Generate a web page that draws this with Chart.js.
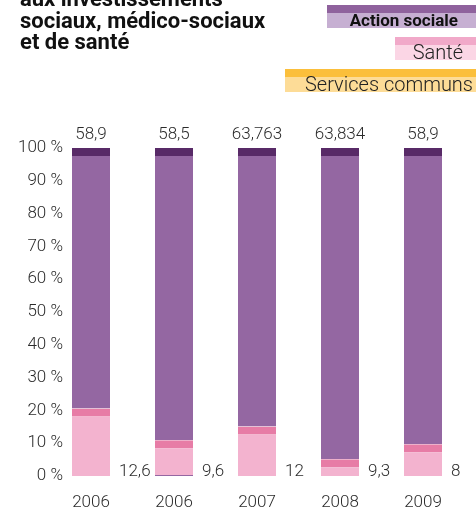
<!DOCTYPE html>
<html>
<head>
<meta charset="utf-8">
<script src="https://cdn.jsdelivr.net/npm/chart.js@4/dist/chart.umd.min.js"></script>
<style>
  html, body { margin: 0; padding: 0; background: #fff; }
  #wrap { position: relative; width: 476px; height: 512px; overflow: hidden; font-family: Roboto, sans-serif; }
  #chart { position: absolute; left: 0; top: 0; }
  .title { position: absolute; left: 20px; top: -12px; font: 700 22px/21.5px Roboto, sans-serif; color: #111; }
  .leg { position: absolute; right: 0; height: 23px; }
  .leg span { position: absolute; bottom: -2px; line-height: 20px; white-space: nowrap; color: #222; }
</style>
</head>
<body>
<div id="wrap">
  <canvas id="chart" width="476" height="512"></canvas>
  <div class="title">aux investissements<br>sociaux, médico-sociaux<br>et de santé</div>
  <div class="leg" style="top:5px;width:149px;background:linear-gradient(#8f629d 0 8px,#c6afd2 8px)">
    <span style="right:18px;font:700 17px/20px Roboto,sans-serif;color:#111">Action sociale</span>
  </div>
  <div class="leg" style="top:37px;width:81px;background:linear-gradient(#f1a9c9 0 8px,#fbd6e5 8px)">
    <span style="right:13px;font:300 20px/20px Roboto,sans-serif">Santé</span>
  </div>
  <div class="leg" style="top:69px;width:191px;background:linear-gradient(#fbbf3b 0 8px,#fddc97 8px)">
    <span style="right:3px;font:300 20px/20px Roboto,sans-serif">Services communs</span>
  </div>
</div>
<script>
// Répartition des investissements par secteur (en % du total)
const years = ['2006', '2006', '2007', '2008', '2009'];
const totalLabels = ['58,9', '58,5', '63,763', '63,834', '58,9'];
const santeLabels = ['12,6', '9,6', '12', '9,3', '8'];

const actionBas = [0, 0.3, 0, 0, 0];
const sante = [20.6, 10.6, 15.1, 5.1, 9.7];
const servicesCommuns = [0, 0, 0, 0, 0];
const actionSociale = [79.4, 89.1, 84.9, 94.9, 90.3];

const TEXT = '#2b2b2b';
const FONT = { family: 'Roboto', size: 17, weight: 300 };

const barLabels = {
  id: 'barLabels',
  afterDatasetsDraw(chart) {
    const { ctx, chartArea } = chart;
    const bars = chart.getDatasetMeta(chart.data.datasets.length - 1).data;
    ctx.save();
    ctx.fillStyle = TEXT;
    ctx.font = '300 17px Roboto';
    ctx.textBaseline = 'alphabetic';
    bars.forEach((bar, i) => {
      const { x, width } = bar.getProps(['x', 'width'], true);
      ctx.textAlign = 'center';
      ctx.fillText(totalLabels[i], x, chartArea.top - 9);
      ctx.textAlign = 'left';
      ctx.fillText(santeLabels[i], x + width / 2 + 9, chartArea.bottom);
    });
    ctx.restore();
  }
};

const common = { barPercentage: 0.458, categoryPercentage: 1, borderSkipped: 'start' };

new Chart(document.getElementById('chart'), {
  type: 'bar',
  data: {
    labels: years,
    datasets: [
      { ...common, label: 'Action sociale', data: actionBas, backgroundColor: '#9467a2' },
      { ...common, label: 'Santé', data: sante, backgroundColor: '#f3b3cf',
        borderColor: '#e77ca6', borderWidth: { top: 8, bottom: 0, left: 0, right: 0 } },
      { ...common, label: 'Services communs', data: servicesCommuns, backgroundColor: '#fddc97' },
      { ...common, label: 'Action sociale', data: actionSociale, backgroundColor: '#9467a2',
        borderColor: '#582a67', borderWidth: { top: 8, bottom: 0, left: 0, right: 0 } },
    ]
  },
  options: {
    responsive: false,
    animation: false,
    layout: { padding: { top: 148, left: 0, right: 11.5, bottom: 0 } },
    plugins: { legend: { display: false }, tooltip: { enabled: false } },
    scales: {
      x: {
        stacked: true,
        grid: { display: false, drawTicks: false },
        border: { display: false },
        ticks: { color: TEXT, font: FONT, padding: 17, maxRotation: 0 },
        afterFit: s => { s.height = 36; }
      },
      y: {
        stacked: true,
        min: 0, max: 100,
        grid: { display: false, drawTicks: false },
        border: { display: false },
        // mirrored so the labels may reach past the axis box; right edge at x = 62
        ticks: { stepSize: 10, color: TEXT, font: FONT, mirror: true, crossAlign: 'far',
                 padding: -31.5, callback: v => v + ' %' },
        afterFit: s => { s.width = 49.5; }
      }
    }
  },
  plugins: [barLabels]
});
</script>
</body>
</html>
